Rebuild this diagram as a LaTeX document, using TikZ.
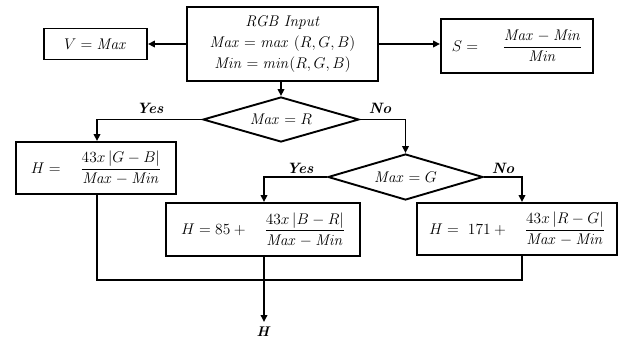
\RequirePackage{fix-cm}
\documentclass[tikz,border=0pt]{standalone}
\usepackage{amsmath}
\usetikzlibrary{shapes.geometric,arrows.meta}
\begin{document}
\begin{tikzpicture}[x=1pt,y=-1pt,
  line width=1.9pt,
  arr/.style={-{Triangle[length=7pt,width=6.5pt]}},
  box/.style={draw,rectangle,inner sep=0pt,font=\fontsize{15.5}{21}\selectfont,align=center},
  dec/.style={draw,diamond,inner sep=0pt,aspect=3.4,font=\fontsize{15.5}{18}\selectfont},
  lbl/.style={font=\fontsize{15}{17}\selectfont\bfseries\itshape,inner sep=0pt}]
\useasboundingbox (0,0) rectangle (621,341);
% boxes
\node[box,minimum width=191pt,minimum height=74pt] (rgb) at (282.5,44)
  {\textit{RGB Input}\\ $\mathit{Max}=\mathit{max}\ (R,G,B)$\\ $\mathit{Min}=\mathit{min}(R,G,B)$};
\node[box,minimum width=103pt,minimum height=31pt] (v) at (95.5,44) {$V=\mathit{Max}$};
\node[box,minimum width=152pt,minimum height=54pt] (s) at (517,46)
  {$S=\quad\ \dfrac{\mathit{Max}-\mathit{Min}}{\mathit{Min}}$};
\node[dec,minimum width=156pt,minimum height=45pt] (d1) at (281,119.5) {$\mathit{Max}=R$};
\node[dec,minimum width=155pt,minimum height=46pt] (d2) at (405.5,177) {$\mathit{Max}=G$};
\node[box,minimum width=160pt,minimum height=52pt] (h1) at (96,168)
  {$H=\quad\dfrac{43x\,|G-B|}{\mathit{Max}-\mathit{Min}}$};
\node[box,minimum width=194pt,minimum height=53pt] (h2) at (263,229.5)
  {$H=85+\quad\dfrac{43x\,|B-R|}{\mathit{Max}-\mathit{Min}}$};
\node[box,minimum width=200pt,minimum height=52pt] (h3) at (517,229)
  {$H=\ 171+\quad\dfrac{43x\,|R-G|}{\mathit{Max}-\mathit{Min}}$};
% helper coordinates
\coordinate (c1) at (97,0);
\coordinate (c2) at (264,0);
\coordinate (c3) at (522,0);
\coordinate (jy) at (0,280);
\coordinate (out) at (264,322);
% connectors
\draw[arr] (rgb.west |- v.east) -- (v.east);
\draw[arr] (rgb.east |- 0,44) -- (s.west |- 0,44);
\draw[arr] (rgb.south -| d1.north) -- (d1.north);
\draw[arr] (d1.west) -| (c1 |- h1.north);
\draw[arr] (d1.east) -| (d2.north);
\draw[arr] (d2.west) -| (c2 |- h2.north);
\draw[arr] (d2.east) -| (c3 |- h3.north);
\draw (c1 |- h1.south) -- (c1 |- jy) -- (c3 |- jy) -- (c3 |- h3.south);
\draw[arr] (c2 |- h2.south) -- (out);
% labels
\node[lbl] (yes1) at (150,108) {Yes};
\node[lbl] (no1) at (380,108) {No};
\node[lbl] (yes2) at (300,168) {Yes};
\node[lbl] (no2) at (503,168) {No};
\node[lbl,font=\fontsize{14}{16}\selectfont\bfseries\itshape] (hout) at (263,332) {H};
\end{tikzpicture}
\end{document}
